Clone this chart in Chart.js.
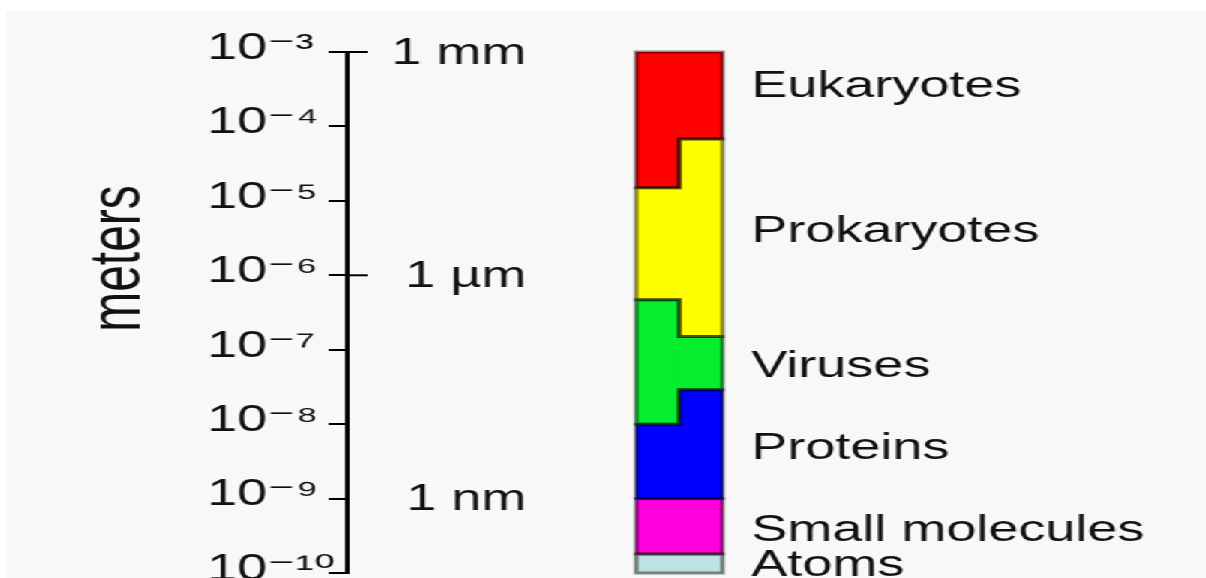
<!DOCTYPE html>
<html>
<head>
<meta charset="utf-8">
<title>Biological size scale</title>
<script src="https://cdn.jsdelivr.net/npm/chart.js@4.4.1/dist/chart.umd.min.js"></script>
<style>
  html, body { margin: 0; padding: 0; background: #fff; overflow: hidden; width: 1206px; height: 578px; }
  /* the reference is stretched sideways, so the canvas is drawn narrow and scaled 1.5x in x */
  #wrap { position: absolute; left: 6px; top: 11px; width: 800px; height: 600px; background: #f8f8f8;
          transform: scaleX(1.5); transform-origin: 0 0; }
</style>
</head>
<body>
<div id="wrap"><canvas id="chart" width="800" height="600"></canvas></div>
<script>
const FONT = "'Liberation Sans', Arial, 'DejaVu Sans', sans-serif";

// size ranges in meters, left half and right half of the column
const groups = ['Eukaryotes', 'Prokaryotes', 'Viruses', 'Proteins', 'Small molecules', 'Atoms'];
const leftSpan = [[1.5e-5, 1e-3], [4.7e-7, 1.5e-5], [1e-8, 4.7e-7], [1e-9, 1e-8], [1.8e-10, 1e-9], [1e-10, 1.8e-10]];
const rightSpan = [[6.8e-5, 1e-3], [1.5e-7, 6.8e-5], [2.9e-8, 1.5e-7], [1e-9, 2.9e-8], [1.8e-10, 1e-9], [1e-10, 1.8e-10]];
const groupColors = ['#ff0000', '#ffff00', '#05ee2d', '#0000ff', '#ff00dd', '#bfe1e4'];
const groupLabelAt = [3.6e-4, 4.1e-6, 6.2e-8, 4.9e-9, 3.9e-10, 1.3e-10];

// axis
const tickValues = [1e-3, 1e-4, 1e-5, 1e-6, 1e-7, 1e-8, 1e-9, 1e-10];
const tickLabels = ['10⁻³', '10⁻⁴', '10⁻⁵', '10⁻⁶', '10⁻⁷', '10⁻⁸', '10⁻⁹', '10⁻¹⁰'];
const unitValues = [1e-3, 1e-6, 1e-9];
const unitLabels = ['1 mm', '1 µm', '1 nm'];
const unitLongTick = [true, true, false];

const datasets = groups.map((name, i) => ({
    label: name,
    data: [{ x: 0, y: leftSpan[i] }, { x: 1, y: rightSpan[i] }],
    backgroundColor: groupColors[i],
    borderWidth: 0,
    grouped: false,
    barPercentage: 1,
    categoryPercentage: 1,
}));

// one outline around the two halves of each group
const outlinePlugin = {
    id: 'outline',
    afterDatasetsDraw(chart) {
        const ctx = chart.ctx;
        ctx.save();
        ctx.strokeStyle = 'rgba(0,0,0,0.45)';
        ctx.lineWidth = 3;
        chart.data.datasets.forEach((ds, i) => {
            const [a, b] = chart.getDatasetMeta(i).data;
            const x0 = a.x - a.width / 2, xm = a.x + a.width / 2, x1 = b.x + b.width / 2;
            const aTop = Math.min(a.y, a.base), aBot = Math.max(a.y, a.base);
            const bTop = Math.min(b.y, b.base), bBot = Math.max(b.y, b.base);
            ctx.beginPath();
            ctx.moveTo(x0, aTop);
            ctx.lineTo(xm, aTop);
            ctx.lineTo(xm, bTop);
            ctx.lineTo(x1, bTop);
            ctx.lineTo(x1, bBot);
            ctx.lineTo(xm, bBot);
            ctx.lineTo(xm, aBot);
            ctx.lineTo(x0, aBot);
            ctx.closePath();
            ctx.stroke();
        });
        ctx.restore();
    }
};

const textPlugin = {
    id: 'texts',
    afterDraw(chart) {
        const ctx = chart.ctx;
        const y = chart.scales.y;
        const axisX = chart.chartArea.left;
        ctx.save();
        ctx.fillStyle = '#111';
        ctx.strokeStyle = '#000';

        // unit marks to the right of the axis
        ctx.font = '36px ' + FONT;
        ctx.textAlign = 'right';
        ctx.textBaseline = 'middle';
        ctx.lineWidth = 2;
        unitValues.forEach((v, i) => {
            const py = y.getPixelForValue(v);
            if (unitLongTick[i]) {
                ctx.beginPath();
                ctx.moveTo(axisX, py);
                ctx.lineTo(axisX + 14, py);
                ctx.stroke();
            }
            ctx.fillText(unitLabels[i], 347, py + 2);
        });

        // group names beside the column
        ctx.textAlign = 'left';
        groups.forEach((name, i) => {
            ctx.fillText(name, 497, y.getPixelForValue(groupLabelAt[i]) + 2);
        });

        // axis name
        ctx.font = '48px ' + FONT;
        ctx.textAlign = 'center';
        ctx.translate(76, (chart.chartArea.top + chart.chartArea.bottom) / 2 - 54);
        ctx.rotate(-Math.PI / 2);
        ctx.fillText('meters', 0, 0);
        ctx.restore();
    }
};

new Chart(document.getElementById('chart'), {
    type: 'bar',
    data: { datasets: datasets },
    plugins: [outlinePlugin, textPlugin],
    options: {
        responsive: false,
        devicePixelRatio: 1,
        animation: false,
        layout: { padding: { left: 134, top: 41, right: 0, bottom: 38 } },
        plugins: {
            legend: { display: false },
            title: { display: false },
            tooltip: { enabled: false },
        },
        scales: {
            x: {
                // hidden; column 0 and 1 are the two halves of the bar
                type: 'linear',
                display: false,
                offset: false,
                bounds: 'data',
                min: -7.21,
                max: 12.69,
                ticks: { count: 2 },
            },
            y: {
                type: 'logarithmic',
                position: 'left',
                min: 1e-10,
                max: 1e-3,
                afterBuildTicks: (scale) => {
                    scale.ticks = tickValues.map((v) => ({ value: v }));
                },
                afterFit: (scale) => {
                    scale.width = 93;
                },
                border: { display: true, color: '#000', width: 3 },
                grid: { drawOnChartArea: false, drawTicks: true, tickLength: 12, color: '#000', lineWidth: 2 },
                ticks: {
                    autoSkip: false,
                    crossAlign: 'far',
                    labelOffset: -3,
                    color: '#111',
                    font: { family: FONT, size: 36 },
                    callback: (v) => tickLabels[tickValues.indexOf(v)],
                },
            },
        },
    },
});
</script>
</body>
</html>
